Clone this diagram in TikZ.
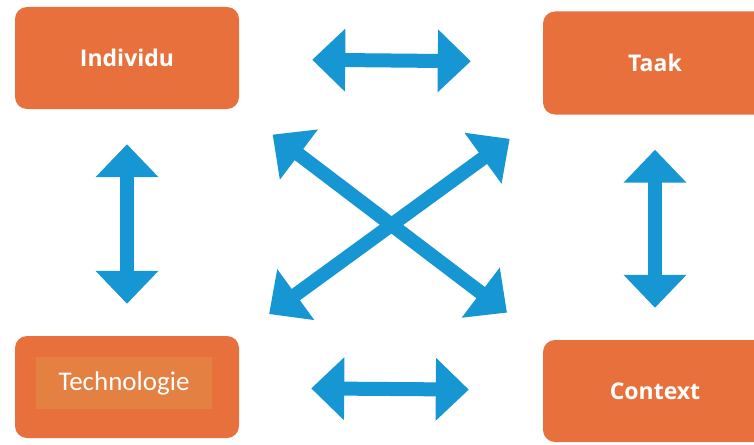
\documentclass[tikz,border=0pt]{standalone}
\usepackage{fontspec}
\setmainfont{Open Sans}
\newfontfamily\calibrifont{Carlito}
\usetikzlibrary{arrows.meta, positioning}

\definecolor{boxorange}{RGB}{232,112,60}
\definecolor{labelorange}{RGB}{228,128,66}
\definecolor{arrowblue}{RGB}{22,150,211}

\tikzset{
  factor/.style={rectangle, rounded corners=12pt, fill=boxorange, text=white,
    minimum width=224pt, minimum height=102pt, font=\bfseries\fontsize{23}{27}\selectfont},
  labelbox/.style={rectangle, fill=labelorange, text=white, minimum width=176pt,
    minimum height=52pt, font=\calibrifont\fontsize{27}{32}\selectfont},
  link/.style={draw=arrowblue, line width=14pt,
    {Triangle[length=33pt,width=61pt]}-{Triangle[length=33pt,width=61pt]}}
}

\begin{document}
\begin{tikzpicture}[x=1pt, y=-1pt]
\useasboundingbox (0,0) rectangle (754,444);

\node[factor] (individu) at (127,58) {Individu};
\node[factor, minimum height=103pt] (taak) at (655,63) {Taak};
\node[factor] (technologie) at (127,387) {};
\node[factor] (context) at (655,391) {Context};
\node[labelbox] (techlabel) at (124,383) {Technologie};

% horizontal and vertical links
\draw[link, shorten <=73pt, shorten >=72pt] (individu) -- (taak);
\draw[link, shorten <=72pt, shorten >=74pt] (technologie) -- (context);
\draw[link, shorten <=35pt, shorten >=32pt] (individu) -- (technologie);
\draw[link, shorten <=35pt, shorten >=32pt] (taak) -- (context);

% crossing links
\draw[link, shorten <=42pt, shorten >=45pt] (individu.south east) -- (context.north west);
\draw[link, shorten <=41pt, shorten >=37pt] (taak.south west) -- (technologie.north east);
\end{tikzpicture}
\end{document}
